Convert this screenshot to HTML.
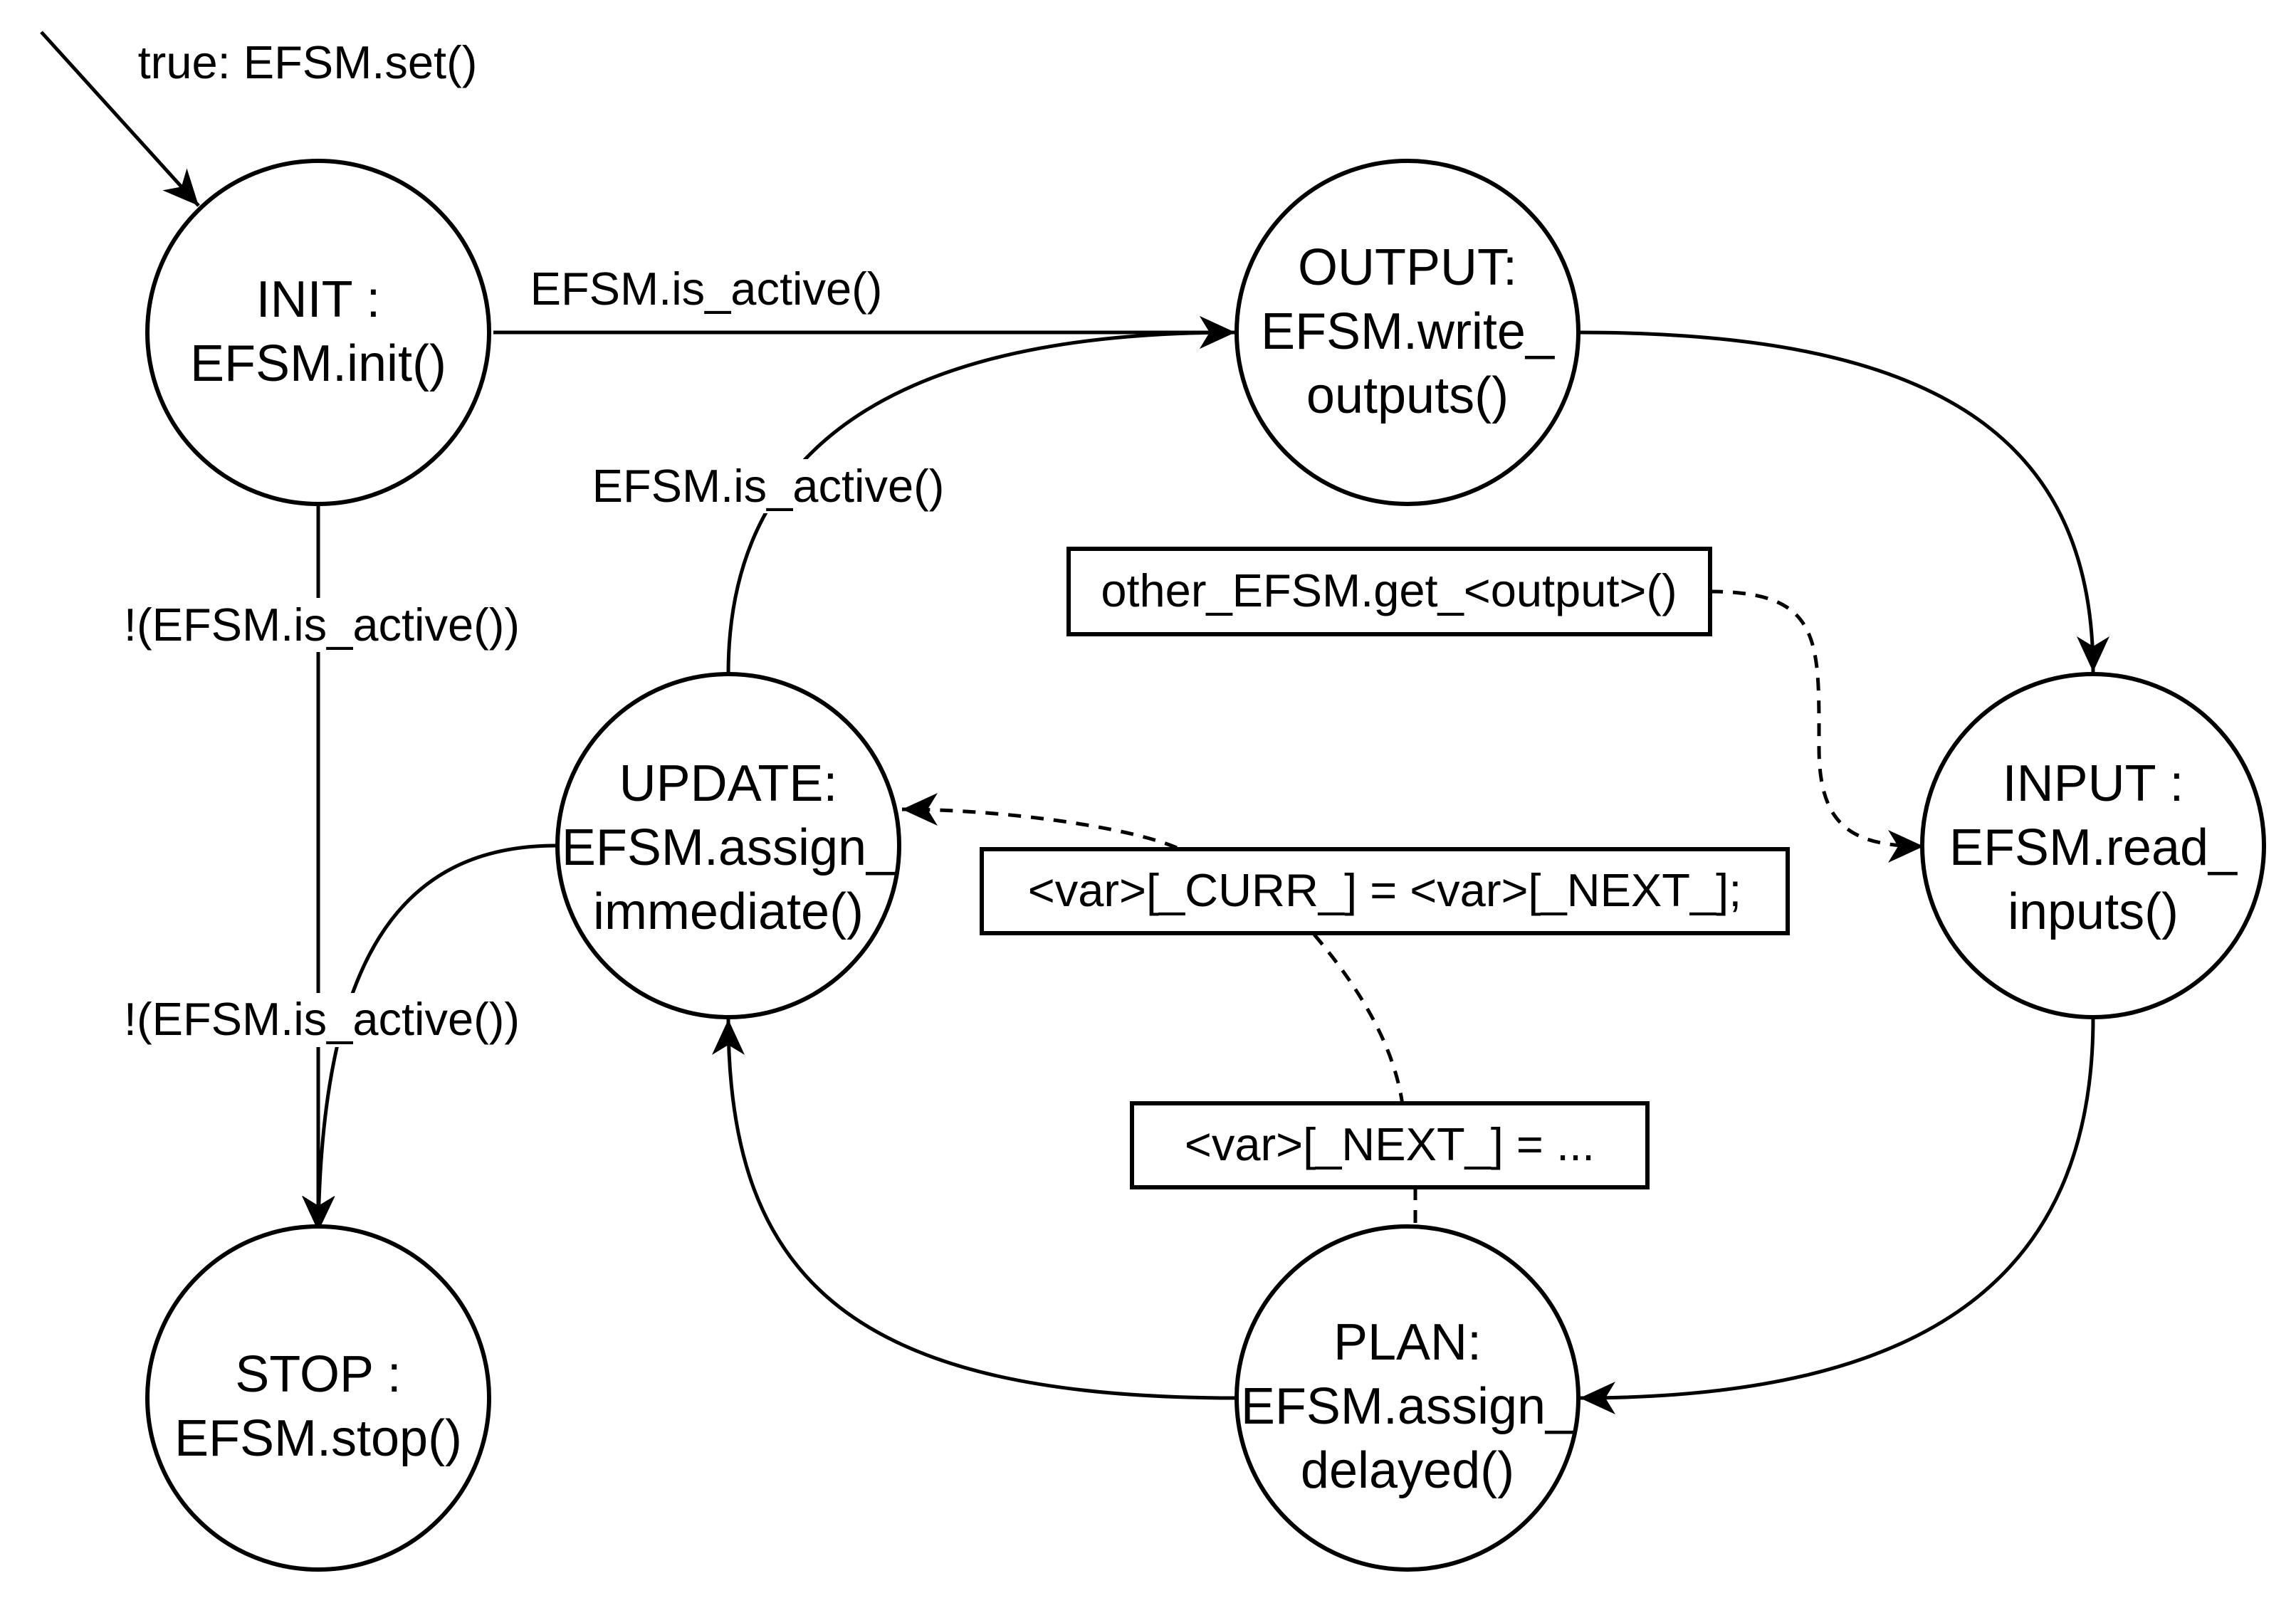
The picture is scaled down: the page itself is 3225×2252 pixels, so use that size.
<!DOCTYPE html>
<html><head><meta charset="utf-8"><style>
html,body{margin:0;padding:0;background:#fff;}
svg{display:block;}
text{font-family:"Liberation Sans",Arial,sans-serif;fill:#000;}
</style></head><body>
<svg width="3225" height="2252" viewBox="0 0 3225 2252" xmlns="http://www.w3.org/2000/svg">
<defs>
<marker id="a" markerUnits="userSpaceOnUse" markerWidth="70" markerHeight="70" refX="50" refY="23" orient="auto" viewBox="0 0 70 46">
<path d="M0,0 L50,23 L0,46 L14,23 Z" fill="#000"/>
</marker>
</defs>
<g fill="none" stroke="#000" stroke-width="5">
<path d="M58,45 L279,289" marker-end="url(#a)"/>
<path d="M693,467 L1735,467" marker-end="url(#a)"/>
<path d="M447,709 L447,1730" marker-end="url(#a)"/>
<path d="M781,1188 C560,1188 452,1350 447,1730" marker-end="url(#a)"/>
<path d="M1023,946 C1023,600 1300,467 1735,467" marker-end="url(#a)"/>
<path d="M2217,467 C2700,467 2940,600 2940,944" marker-end="url(#a)"/>
<path d="M2940,1430 C2940,1800 2700,1964 2219,1964" marker-end="url(#a)"/>
<path d="M1737,1964 C1200,1964 1023,1800 1023,1432" marker-end="url(#a)"/>
<g stroke-dasharray="18,14">
<path d="M2402,831 C2560,831 2555,900 2555,1050 C2555,1160 2600,1189 2702,1189" marker-end="url(#a)"/>
<path d="M1653,1191 C1580,1160 1400,1137 1267,1137" marker-end="url(#a)"/>
<path d="M1846,1313 C1920,1400 1960,1480 1970,1552"/>
<path d="M1988,1668 L1988,1722"/>
</g>
</g>
<g fill="#fff" stroke="#000" stroke-width="6">
<ellipse cx="447" cy="467" rx="240" ry="241"/>
<ellipse cx="1977" cy="467" rx="240" ry="241"/>
<ellipse cx="2940" cy="1188" rx="240" ry="241"/>
<ellipse cx="1977" cy="1964" rx="240" ry="241"/>
<ellipse cx="1023" cy="1188" rx="240" ry="241"/>
<ellipse cx="447" cy="1964" rx="240" ry="241"/>
<rect x="1501" y="771" width="901" height="120"/>
<rect x="1379" y="1193" width="1132" height="118"/>
<rect x="1590" y="1550" width="724" height="118"/>
</g>
<g font-size="72" text-anchor="middle">
<text x="447" y="445">INIT :</text><text x="447" y="535">EFSM.init()</text>
<text x="1977" y="400">OUTPUT:</text><text x="1977" y="490">EFSM.write_</text><text x="1977" y="580">outputs()</text>
<text x="2940" y="1125">INPUT :</text><text x="2940" y="1215">EFSM.read_</text><text x="2940" y="1305">inputs()</text>
<text x="1977" y="1910">PLAN:</text><text x="1977" y="2000">EFSM.assign_</text><text x="1977" y="2090">delayed()</text>
<text x="1023" y="1125">UPDATE:</text><text x="1023" y="1215">EFSM.assign_</text><text x="1023" y="1305">immediate()</text>
<text x="447" y="1955">STOP :</text><text x="447" y="2045">EFSM.stop()</text>
</g>
<g font-size="65" text-anchor="middle">
<rect x="165" y="840" width="574" height="76" fill="#fff"/>
<rect x="165" y="1395" width="574" height="76" fill="#fff"/>
<rect x="815" y="645" width="530" height="76" fill="#fff"/>
<text x="432" y="110">true: EFSM.set()</text>
<text x="992" y="428">EFSM.is_active()</text>
<text x="452" y="900">!(EFSM.is_active())</text>
<text x="452" y="1454">!(EFSM.is_active())</text>
<text x="1079" y="705">EFSM.is_active()</text>
<text x="1951" y="852">other_EFSM.get_&lt;output&gt;()</text>
<text x="1945" y="1273">&lt;var&gt;[_CURR_] = &lt;var&gt;[_NEXT_];</text>
<text x="1952" y="1630">&lt;var&gt;[_NEXT_] = ...</text>
</g>
</svg>
</body></html>
